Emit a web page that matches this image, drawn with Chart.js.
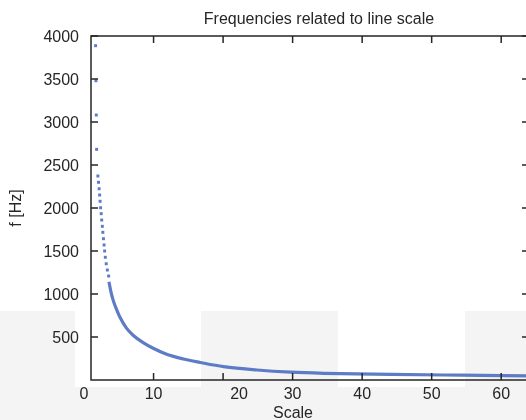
<!DOCTYPE html>
<html>
<head>
<meta charset="utf-8">
<script src="https://cdn.jsdelivr.net/npm/chart.js"></script>
<style>
  html, body { margin: 0; padding: 0; background: #fff; overflow: hidden; }
  #quadro { position: relative; width: 526px; height: 420px; overflow: hidden; font-family: "Liberation Sans", Arial, sans-serif; color: #262626; }
  .cinza { position: absolute; background: #f4f4f4; }
  .branco { position: absolute; background: #fff; }
  .texto { position: absolute; text-align: center; font-size: 16px; line-height: 16px; white-space: nowrap; }
  #titulo { left: 119px; width: 400px; top: 11px; }
  #rotulo-x { left: 193px; width: 200px; top: 405px; }
  canvas { position: absolute; left: 0; top: 0; }
</style>
</head>
<body>
<div id="quadro">
  <div class="cinza" style="left:0;top:311px;width:526px;height:109px"></div>
  <div class="branco" style="left:75px;top:311px;width:126px;height:76px"></div>
  <div class="branco" style="left:338px;top:311px;width:127px;height:76px"></div>
  <canvas id="grafico" width="545" height="420"></canvas>
  <div class="texto" id="titulo">Frequencies related to line scale</div>
  <div class="texto" id="rotulo-x">Scale</div>
</div>
<script>
// pontos soltos no topo da curva
const escalaPontos = [1.66, 1.71, 1.76, 1.81, 1.99, 2.08, 2.17, 2.24, 2.31, 2.38, 2.47, 2.54, 2.63, 2.70, 2.79, 2.88, 2.96, 3.06, 3.19, 3.35, 3.54];
const freqPontos = [3887, 3480, 3081, 2682, 2372, 2299, 2224, 2151, 2078, 2003, 1934, 1860, 1787, 1717, 1643, 1570, 1500, 1427, 1352, 1279, 1209];

// parte continua
const escalaCurva = [3.58, 3.83, 4.16, 4.60, 5.13, 6.10, 7.05, 8.50, 9.94, 11.88, 14.28, 16.69, 20.06, 24.88, 29.70, 34.47, 44.15, 54.26, 63.95];
const freqCurva = [1143, 1040, 935, 835, 735, 603, 521, 434, 369, 299, 244, 204, 155, 116, 91, 78, 66, 56, 47];

const xTicks = [10, 20, 30, 40, 50, 60];
const xRotulosPos = [0, 10, 22.3, 30, 40, 50, 60];
const xRotulos = ['0', '10', '20', '30', '40', '50', '60'];
const yTicks = [500, 1000, 1500, 2000, 2500, 3000, 3500, 4000];

const corLinha = 'rgb(94, 124, 198)';
const corEixo = '#262626';
const fonte = { family: '"Liberation Sans", Arial, sans-serif', size: 16 };

const ctx = document.getElementById('grafico').getContext('2d');

const moldura = {
  id: 'moldura',
  afterDraw(chart) {
    const { ctx, chartArea: a, scales: { x, y } } = chart;
    ctx.save();
    ctx.strokeStyle = corEixo;
    ctx.lineWidth = 1.5;
    ctx.beginPath();
    xTicks.forEach(v => {
      const px = x.getPixelForValue(v);
      ctx.moveTo(px, a.bottom); ctx.lineTo(px, a.bottom - 7);
      ctx.moveTo(px, a.top); ctx.lineTo(px, a.top + 7);
    });
    yTicks.forEach(v => {
      const py = y.getPixelForValue(v);
      ctx.moveTo(a.left, py); ctx.lineTo(a.left + 7, py);
      ctx.moveTo(a.right, py); ctx.lineTo(a.right - 7, py);
    });
    ctx.stroke();
    ctx.strokeRect(a.left, a.top, a.right - a.left, a.bottom - a.top);
    ctx.restore();
  }
};

new Chart(ctx, {
  type: 'scatter',
  data: {
    datasets: [{
      label: 'pontos',
      data: escalaPontos.map((s, i) => ({ x: s, y: freqPontos[i] })),
      showLine: false,
      pointStyle: 'rect',
      pointRadius: 2.1,
      borderWidth: 0,
      backgroundColor: corLinha
    }, {
      label: 'curva',
      data: escalaCurva.map((s, i) => ({ x: s, y: freqCurva[i] })),
      showLine: true,
      pointRadius: 0,
      borderWidth: 3.2,
      borderColor: corLinha,
      cubicInterpolationMode: 'monotone'
    }]
  },
  options: {
    responsive: false,
    animation: false,
    layout: { padding: { top: 36, right: 16, left: 0, bottom: 0 } },
    plugins: {
      legend: { display: false },
      tooltip: { enabled: false }
    },
    scales: {
      x: {
        type: 'linear',
        min: 1,
        max: 64,
        bounds: 'data',
        afterBuildTicks: axis => { axis.ticks = xRotulosPos.map(v => ({ value: v })); },
        afterFit: axis => { axis.height = 40; },
        grid: { display: false, drawTicks: false },
        border: { display: false },
        ticks: {
          autoSkip: false,
          maxRotation: 0,
          padding: 5,
          color: corEixo,
          font: fonte,
          callback: (v, i) => xRotulos[i]
        }
      },
      y: {
        min: 0,
        max: 4000,
        afterBuildTicks: axis => { axis.ticks = yTicks.map(v => ({ value: v })); },
        afterFit: axis => { axis.width = 91; },
        grid: { display: false, drawTicks: false },
        border: { display: false },
        ticks: {
          padding: 12,
          labelOffset: 2,
          color: corEixo,
          font: fonte,
          callback: v => String(v)
        },
        title: {
          display: true,
          text: 'f [Hz]',
          color: corEixo,
          font: fonte,
          padding: { top: 7, bottom: 0 }
        }
      }
    }
  },
  plugins: [moldura]
});
</script>
</body>
</html>
